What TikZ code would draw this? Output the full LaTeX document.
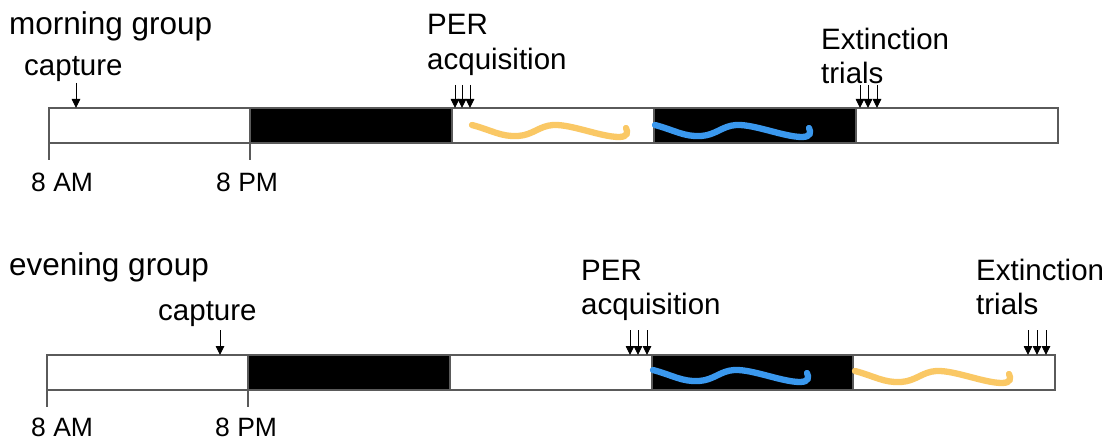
\documentclass[tikz,border=0pt]{standalone}
\usepackage{fontspec}
\setmainfont{Liberation Sans}
\usetikzlibrary{arrows.meta,calc}

\definecolor{barline}{HTML}{5A5A5A}
\definecolor{waveyellow}{HTML}{FAC865}
\definecolor{waveblue}{HTML}{3A98EE}

\tikzset{
  caption/.style={anchor=base west, inner sep=0pt, font=\fontsize{29.5}{35}\selectfont},
  title/.style={anchor=base west, inner sep=0pt, font=\fontsize{31.5}{36}\selectfont},
  hour/.style={anchor=base west, inner sep=0pt, font=\fontsize{26.5}{30}\selectfont},
  seg/.style={draw=barline, line width=1.2pt, minimum width=202pt, minimum height=35pt,
              inner sep=0pt, outer sep=0pt, anchor=north west},
  lightseg/.style={seg, fill=white},
  darkseg/.style={seg, fill=black},
  hourtick/.style={draw=barline, line width=1.2pt},
  marker/.style={-{Triangle[length=9pt,width=8.5pt]}, line width=0.9pt},
  wave/.style={line width=6.3pt, line cap=round},
}

% one squiggle, drawn relative to the north west corner of a segment
\newcommand{\squiggle}[2]{%
  \draw[wave, #1, shift={(#2)}]
    (1,15) .. controls (20,20) and (30,27) .. (47,26)
           .. controls (62,25) and (68,16) .. (82,15)
           .. controls (100,14) and (130,27) .. (148,27)
           .. controls (157,27) and (157,22) .. (155,18);}

\begin{document}
\begin{tikzpicture}[x=1pt, y=-1pt]
\useasboundingbox (0,0) rectangle (1112,441);

% ---------------- morning group ----------------
\node[title] (mtitle) at (9,35) {morning group};

\node[lightseg] (m1) at (49,108) {};
\node[darkseg]  (m2) at (250,108) {};
\node[lightseg] (m3) at (452,108) {};
\node[darkseg]  (m4) at (654,108) {};
\node[lightseg] (m5) at (856,108) {};

\draw[hourtick] (m1.south west) -- ++(0,17);
\draw[hourtick] (m2.south west) -- ++(0,17);
\node[hour] (m8am) at (31,192) {8 AM};
\node[hour] (m8pm) at (216,192) {8 PM};

\node[caption] (mcap) at (24,76) {capture};
\coordinate (mc) at (76,83);
\draw[marker] (mc) -- (mc |- m1.north);

\node[caption] (mper) at (427,35) {PER};
\node[caption] (macq) at (427,70) {acquisition};
\foreach \x [count=\i] in {455,462,470} {
  \coordinate (ma\i) at (\x,85);
  \draw[marker] (ma\i) -- (ma\i |- m3.north);
}

\node[caption] (mext) at (821,50) {Extinction};
\node[caption] (mtri) at (821,84) {trials};
\foreach \x [count=\i] in {860,868,877} {
  \coordinate (me\i) at (\x,85);
  \draw[marker] (me\i) -- (me\i |- m5.north);
}

\squiggle{waveyellow}{$(m3.north west)+(19,2)$}
\squiggle{waveblue}{$(m4.north west)+(0,2)$}

% ---------------- evening group ----------------
\node[title] (etitle) at (9,275) {evening group};

\node[lightseg] (e1) at (47,355) {};
\node[darkseg]  (e2) at (248,355) {};
\node[lightseg] (e3) at (450,355) {};
\node[darkseg]  (e4) at (652,355) {};
\node[lightseg] (e5) at (853,355) {};

\draw[hourtick] (e1.south west) -- ++(0,17);
\draw[hourtick] (e2.south west) -- ++(0,17);
\node[hour] (e8am) at (31,436) {8 AM};
\node[hour] (e8pm) at (215,436) {8 PM};

\node[caption] (ecap) at (158,320) {capture};
\coordinate (ec) at (220,330);
\draw[marker] (ec) -- (ec |- e1.north);

\node[caption] (eper) at (581,280) {PER};
\node[caption] (eacq) at (581,314) {acquisition};
\foreach \x [count=\i] in {630,638,647} {
  \coordinate (ea\i) at (\x,330);
  \draw[marker] (ea\i) -- (ea\i |- e3.north);
}

\node[caption] (eext) at (976,280) {Extinction};
\node[caption] (etri) at (976,314) {trials};
\foreach \x [count=\i] in {1028,1037,1046} {
  \coordinate (ee\i) at (\x,330);
  \draw[marker] (ee\i) -- (ee\i |- e5.north);
}

\squiggle{waveblue}{$(e4.north west)+(0,0)$}
\squiggle{waveyellow}{$(e5.north west)+(1,1)$}
\end{tikzpicture}
\end{document}
